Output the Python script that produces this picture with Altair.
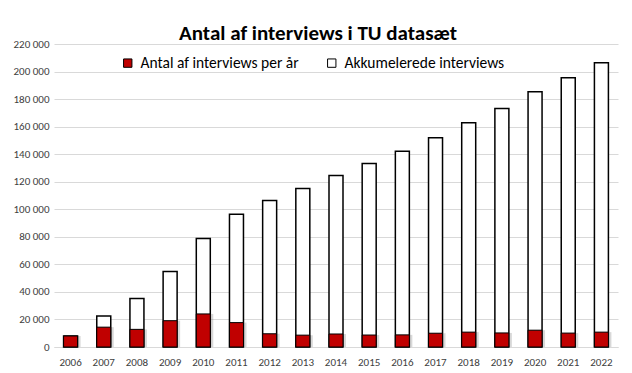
import altair as alt
import pandas as pd

years = ["2006", "2007", "2008", "2009", "2010", "2011", "2012", "2013", "2014",
         "2015", "2016", "2017", "2018", "2019", "2020", "2021", "2022"]
per_year = [8000, 14400, 12800, 19100, 24000, 17700, 9600, 8600, 9450,
            8700, 8800, 10000, 10800, 10200, 12200, 10100, 10800]
cumulative = [8000, 22500, 35300, 54900, 78800, 96300, 106300, 115000, 124500,
              133200, 142100, 152000, 162900, 173100, 185400, 195500, 206400]
series_names = ["Antal af interviews per år", "Akkumelerede interviews"]
y_ticks = [0, 20000, 40000, 60000, 80000, 100000, 120000, 140000, 160000,
           180000, 200000, 220000]

df_year = pd.DataFrame({"year": years, "value": per_year, "series": series_names[0]})
df_cum = pd.DataFrame({"year": years, "value": cumulative, "series": series_names[1]})

FONT = "Carlito, Calibri, Lato, sans-serif"

x = alt.X("year:N", sort=years,
          scale=alt.Scale(paddingInner=0, paddingOuter=0),
          axis=alt.Axis(title=None, labelAngle=0, ticks=False, domainColor="#D9D9D9",
                        labelPadding=9, labelFontSize=11, labelColor="#404040",
                        labelFont=FONT, grid=False))
y = alt.Y("value:Q", scale=alt.Scale(domain=[0, 220000], nice=False),
          axis=alt.Axis(title=None, values=y_ticks,
                        labelExpr="replace(format(datum.value, ','), ',', ' ')",
                        domain=False, ticks=False, gridColor="#D9D9D9", gridWidth=1,
                        labelPadding=5, labelFontSize=11, labelColor="#404040",
                        labelFont=FONT))
fill = alt.Fill("series:N",
                scale=alt.Scale(domain=series_names, range=["#C00000", "#FFFFFF"]),
                legend=alt.Legend(title=None, orient="none", legendX=66, legendY=11,
                                  direction="horizontal", symbolType="square",
                                  symbolSize=70, symbolStrokeColor="black",
                                  symbolStrokeWidth=1, labelFontSize=15.5,
                                  labelFont=FONT, labelColor="#000000",
                                  columnPadding=25, labelOffset=5, labelLimit=400))

cum_bars = alt.Chart(df_cum).mark_bar(size=14, stroke="black", strokeWidth=1.5).encode(
    x=x, y=y, fill=fill)
shadow = alt.Chart(df_year).mark_bar(size=14, xOffset=3, color="#7f7f7f", opacity=0.3).encode(
    x=x, y=y)
red_bars = alt.Chart(df_year).mark_bar(size=14, stroke="black", strokeWidth=1).encode(
    x=x, y=y, fill=fill)

chart = alt.layer(cum_bars, shadow, red_bars).properties(
    width=564, height=303,
    autosize=alt.AutoSizeParams(type="none"),
    padding={"left": 46, "top": 36, "right": 6, "bottom": 20},
    title=alt.TitleParams("Antal af interviews i TU datasæt", fontSize=21, font=FONT,
                          fontWeight="bold", anchor="middle", dx=-18, offset=-6,
                          color="black"),
    background="white",
).configure_view(stroke=None)

chart.save("out.html", embed_options={"renderer": "svg", "actions": False})
